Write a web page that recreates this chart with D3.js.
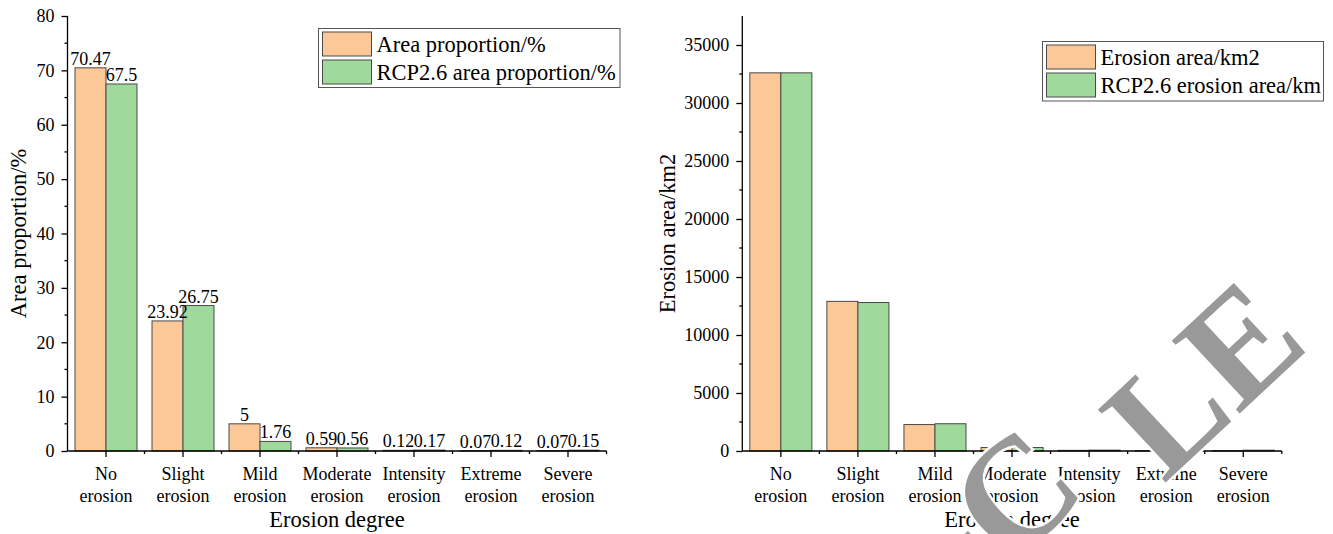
<!DOCTYPE html>
<html>
<head>
<meta charset="utf-8">
<script src="https://cdn.jsdelivr.net/npm/d3@7"></script>
<style>
  html, body { margin: 0; padding: 0; background: #fff; }
  svg { display: block; }
  svg text { font-family: "Liberation Serif", "Times New Roman", serif; }
</style>
</head>
<body>
<svg id="chart" width="1333" height="534"></svg>
<script>
// Erosion degree classes (x categories, shared by both panels)
const categories = ["No erosion", "Slight erosion", "Mild erosion", "Moderate erosion",
                    "Intensity erosion", "Extreme erosion", "Severe erosion"];

// Left panel: area proportion (%)
const areaProportion     = [70.47, 23.92, 5, 0.59, 0.12, 0.07, 0.07];
const rcpAreaProportion  = [67.5, 26.75, 1.76, 0.56, 0.17, 0.12, 0.15];
const leftSeriesNames    = ["Area proportion/%", "RCP2.6 area proportion/%"];
const leftTicks          = [0, 10, 20, 30, 40, 50, 60, 70, 80];

// Right panel: erosion area (km2)
const erosionArea        = [32600, 12900, 2280, 300, 55, 32, 32];
const rcpErosionArea     = [32600, 12800, 2350, 300, 78, 55, 69];
const rightSeriesNames   = ["Erosion area/km2", "RCP2.6 erosion area/km"];
const rightTicks         = [0, 5000, 10000, 15000, 20000, 25000, 30000, 35000];

const colors = ["#fcc897", "#9fd99c"];
const barStroke = "#4a4a4a";

const svg = d3.select("#chart");

function drawPanel(cfg) {
  const g = svg.append("g");
  const x = d3.scaleBand().domain(categories).range(cfg.xRange)
    .paddingInner(0.195).paddingOuter(0.0975);
  const xs = d3.scaleBand().domain([0, 1]).range([0, x.bandwidth()]);
  const y = d3.scaleLinear().domain(cfg.yDomain).range([451, 16]);

  const rows = categories.map((c, i) => ({ c, v: [cfg.s1[i], cfg.s2[i]] }));

  // bars
  const grp = g.selectAll("g.cat").data(rows).join("g")
    .attr("transform", d => `translate(${x(d.c)},0)`);
  grp.selectAll("rect").data(d => d.v.map((v, k) => ({ v, k }))).join("rect")
    .attr("x", d => xs(d.k))
    .attr("y", d => y(d.v))
    .attr("width", xs.bandwidth())
    .attr("height", d => y(0) - y(d.v))
    .attr("fill", d => colors[d.k])
    .attr("stroke", barStroke)
    .attr("stroke-width", 1);

  // value labels
  if (cfg.labels) {
    grp.selectAll("text.val").data(d => d.v.map((v, k) => ({ v, k }))).join("text")
      .attr("class", "val")
      .attr("x", d => xs(d.k) + xs.bandwidth() / 2)
      .attr("y", d => y(d.v) - 3)
      .attr("text-anchor", "middle")
      .attr("font-size", 18)
      .text(d => d.v);
  }

  // y axis: major ticks with labels, minor ticks between
  const yAxis = d3.axisLeft(y).tickValues(cfg.yTicks).tickSize(6).tickPadding(7)
    .tickFormat(d3.format("d"));
  const ya = g.append("g").attr("transform", `translate(${cfg.xRange[0]},0)`).call(yAxis);
  ya.attr("font-size", 18).attr("font-family", null);
  ya.select(".domain").attr("d", `M0,${y.range()[1]}V${y(0)}`).attr("stroke-width", 1.3);
  ya.selectAll(".tick line").attr("stroke-width", 1.3);
  ya.selectAll(".tick text").attr("fill", "#000");
  const minor = d3.range(cfg.yTicks[0] + cfg.minorStep, cfg.yDomain[1], cfg.minorStep * 2);
  ya.selectAll("line.minor").data(minor).join("line").attr("class", "minor")
    .attr("x1", -3).attr("x2", 0).attr("y1", d => y(d)).attr("y2", d => y(d))
    .attr("stroke", "#000").attr("stroke-width", 1.3);

  // x axis
  const xa = g.append("g").attr("transform", `translate(0,${y(0)})`);
  xa.append("line").attr("x1", cfg.xRange[0]).attr("x2", cfg.xRange[1])
    .attr("stroke", "#000").attr("stroke-width", 1.3);
  xa.selectAll("line.maj").data(categories).join("line").attr("class", "maj")
    .attr("x1", d => x(d) + x.bandwidth() / 2).attr("x2", d => x(d) + x.bandwidth() / 2)
    .attr("y1", 0).attr("y2", 6).attr("stroke", "#000").attr("stroke-width", 1.3);
  const bounds = categories.map(c => x(c) - x.step() * x.paddingOuter()).slice(1)
    .concat([cfg.xRange[1]]);
  xa.selectAll("line.mn").data(bounds).join("line").attr("class", "mn")
    .attr("x1", d => d).attr("x2", d => d).attr("y1", 0).attr("y2", 3)
    .attr("stroke", "#000").attr("stroke-width", 1.3);
  const lab = xa.selectAll("text.cat").data(categories).join("text").attr("class", "cat")
    .attr("x", d => x(d) + x.bandwidth() / 2)
    .attr("text-anchor", "middle").attr("font-size", 18);
  lab.append("tspan").attr("y", 29).attr("x", d => x(d) + x.bandwidth() / 2)
    .text(d => d.split(" ")[0]);
  lab.append("tspan").attr("y", 50.7).attr("x", d => x(d) + x.bandwidth() / 2)
    .text(d => d.split(" ")[1]);

  // axis titles
  g.append("text").attr("x", (cfg.xRange[0] + cfg.xRange[1]) / 2).attr("y", 527)
    .attr("text-anchor", "middle").attr("font-size", 22.5).text("Erosion degree");
  g.append("text")
    .attr("transform", `translate(${cfg.yTitleX},233.5) rotate(-90)`)
    .attr("text-anchor", "middle").attr("font-size", 22.5).text(cfg.yTitle);

  // legend
  const L = cfg.legend;
  const lg = g.append("g");
  lg.append("rect").attr("x", L.x).attr("y", L.y).attr("width", L.w).attr("height", L.h)
    .attr("fill", "#fff").attr("stroke", "#555");
  cfg.names.forEach((n, k) => {
    lg.append("rect").attr("x", L.x + 4).attr("y", L.y + 3.5 + k * 28)
      .attr("width", 49).attr("height", 24)
      .attr("fill", colors[k]).attr("stroke", barStroke);
    lg.append("text").attr("x", L.x + 58).attr("y", L.y + 23 + k * 28)
      .attr("font-size", 22.5).text(n);
  });
}

drawPanel({
  xRange: [67.5, 606.5], yDomain: [0, 80], yTicks: leftTicks, minorStep: 5,
  s1: areaProportion, s2: rcpAreaProportion, labels: true,
  yTitle: "Area proportion/%", yTitleX: 26, names: leftSeriesNames,
  legend: { x: 318.5, y: 28.5, w: 301.5, h: 59 }
});

drawPanel({
  xRange: [742.3, 1281.8], yDomain: [0, 37500], yTicks: rightTicks, minorStep: 2500,
  s1: erosionArea, s2: rcpErosionArea, labels: false,
  yTitle: "Erosion area/km2", yTitleX: 675, names: rightSeriesNames,
  legend: { x: 1042.5, y: 41.5, w: 281, h: 59.5 }
});

// diagonal stamp across the lower right
const stamp = svg.append("text")
  .attr("transform", "translate(1312,346) rotate(-43)")
  .attr("text-anchor", "end")
  .attr("font-size", 152)
  .attr("font-weight", "bold")
  .attr("fill", "#999")
  .attr("stroke", "#fff").attr("stroke-width", 5)
  .style("paint-order", "stroke");
stamp.append("tspan").text("RETRACTED ARTI");
stamp.append("tspan").attr("dy", -44).text("C");
stamp.append("tspan").attr("dx", 60).attr("dy", 44).text("LE");
</script>
</body>
</html>
